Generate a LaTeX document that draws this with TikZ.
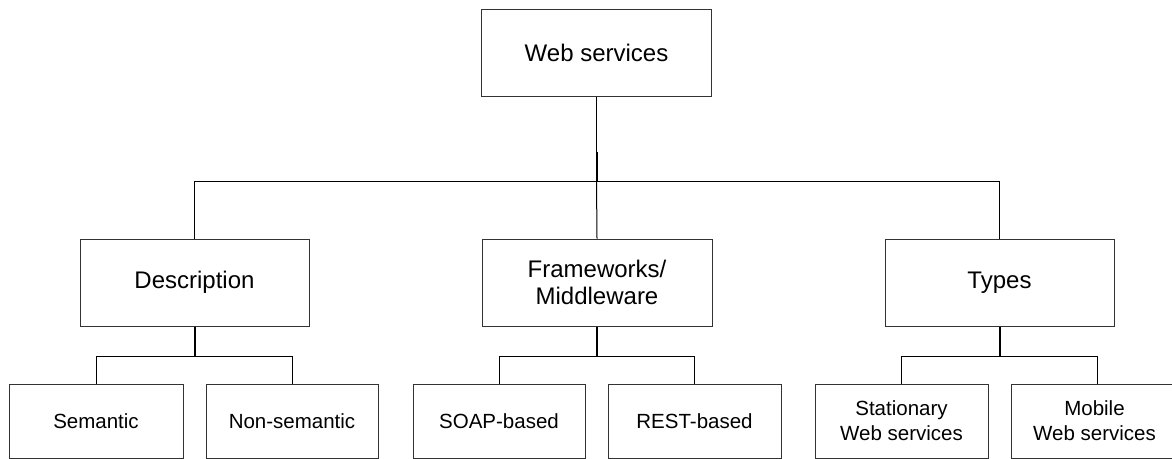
\documentclass[tikz,border=0pt]{standalone}
\usepackage{fontspec}
\setmainfont{Liberation Sans}
\begin{document}
\begin{tikzpicture}[x=1pt,y=-1pt,
  box/.style={draw=black!80,line width=1pt,inner sep=0pt,align=center,fill=white},
  bigbox/.style={box,minimum height=87pt,font=\fontsize{24}{27.5}\selectfont},
  smallbox/.style={box,minimum height=74pt,font=\fontsize{20.5}{25}\selectfont},
  conn/.style={draw=black,line width=1pt},
  thick conn/.style={draw=black,line width=2pt}]
\useasboundingbox (0,0) rectangle (1172,458);
% top
\node[bigbox,minimum width=230pt] (root) at (596.5,52.5) {Web services};
% middle
\node[bigbox,minimum width=229pt] (desc) at (194.5,282.5) {Description};
\node[bigbox,minimum width=230pt] (frame) at (597,282.5) {Frameworks/\\Middleware};
\node[bigbox,minimum width=229pt] (types) at (999.5,282.5) {Types};
% bottom
\node[smallbox,minimum width=174pt] (sem) at (96,421) {Semantic};
\node[smallbox,minimum width=172pt] (nons) at (292,421) {Non-semantic};
\node[smallbox,minimum width=172pt] (soap) at (499,421) {SOAP-based};
\node[smallbox,minimum width=173pt] (rest) at (694.5,421) {REST-based};
\node[smallbox,minimum width=173pt] (stat) at (901.5,421) {Stationary\\Web services};
\node[smallbox,minimum width=172pt] (mob) at (1097,421) {\hspace*{-5pt}Mobile\\\hspace*{-5pt}Web services};
% branch points
\coordinate (b0) at (596.5,181.5);
\coordinate (b0m) at (596.5,152);
\coordinate (b1) at (194.5,356.5);
\coordinate (b2) at (597,356.5);
\coordinate (b3) at (999.5,356.5);
% connectors level 1
\draw[conn] (root.south) -- (b0m);
\draw[thick conn] (b0m) -- (b0);
\draw[conn] (desc.north) -- (desc.north |- b0) -- (types.north |- b0) -- (types.north);
\draw[conn] (b0) -- (frame.north);
% connectors level 2
\draw[thick conn] (desc.south) -- (b1);
\draw[conn] (sem.north) |- (b1) -| (nons.north);
\draw[thick conn] (frame.south) -- (b2);
\draw[conn] (soap.north) |- (b2) -| (rest.north);
\draw[thick conn] (types.south) -- (b3);
\draw[conn] (stat.north) |- (b3) -| (mob.north);
\end{tikzpicture}
\end{document}
